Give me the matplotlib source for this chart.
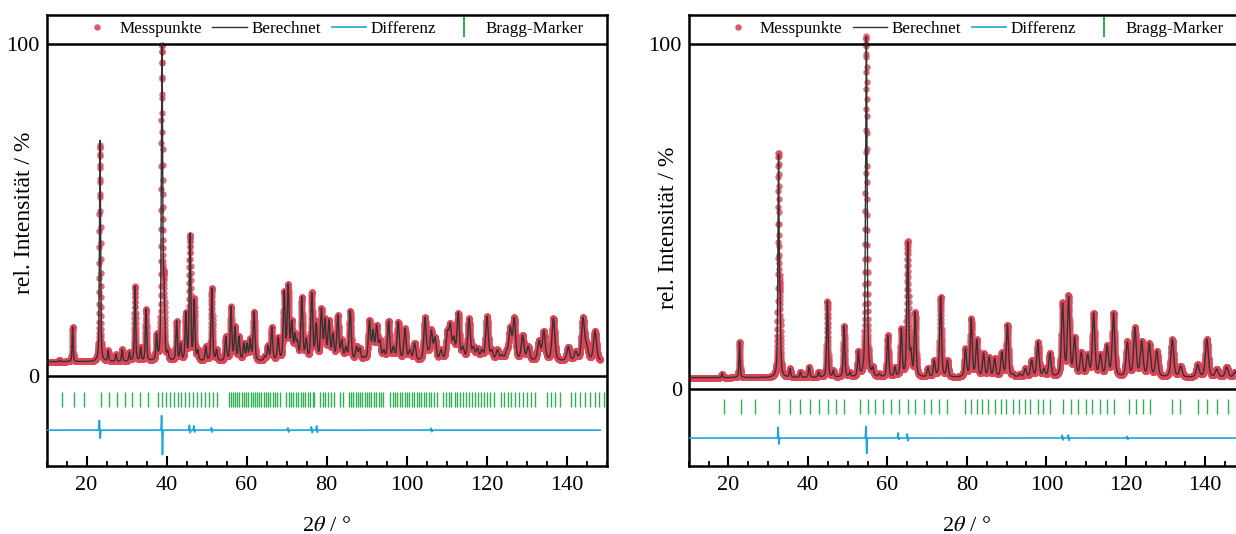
import numpy as np
import matplotlib.pyplot as plt
from matplotlib.lines import Line2D
from matplotlib.ticker import MultipleLocator

plt.rcParams.update({
    "font.family": "Liberation Serif",
    "mathtext.fontset": "stix",
})

# ---------------- left pattern ----------------
# reflection position (2theta / deg) and peak top (rel. intensity / %)
left_pos = [13.2, 16.5, 23.35, 25.4, 27.35, 28.9, 30.7, 32.1, 33.5, 34.85,
            37.5, 38.85, 39.35, 40.3, 42.5, 43.5, 44.8, 45.85, 46.9, 47.8,
            49.8, 51.3, 52.5, 54.8, 56.1, 57.1, 58.1, 59.3, 60.1, 60.9,
            61.85, 64.5, 65.3, 66.3, 67.9, 69.4, 70.4, 71.3, 72.1, 72.7,
            73.8, 74.9, 76.3, 77.4, 78.7, 79.6, 80.6, 81.6, 82.8, 83.8,
            84.8, 85.9, 87.5, 88.3, 89.4, 90.7, 91.6, 92.5, 93.3, 94.3,
            95.5, 96.7, 97.9, 99.6, 100.8, 102.0, 104.6, 105.4, 106.2, 107.1,
            108.6, 110.2, 110.9, 111.8, 112.9, 114.1, 115.6, 116.7, 117.7, 118.8,
            120.1, 121.3, 122.7, 123.8, 125.0, 125.9, 126.9, 129.0, 130.4, 133.1,
            134.3, 136.7, 140.4, 142.3, 144.1, 145.0, 147.1]
left_top = [4.8, 14.8, 71, 7.8, 6.6, 8.1, 7.3, 27, 8.8, 20.2,
            12.9, 100, 30, 7.8, 16.7, 10, 19.4, 43, 23.2, 8,
            9, 26.5, 8, 12, 21, 15, 12, 10, 10, 11.4,
            19.4, 6, 9.3, 14.8, 11.7, 25.7, 27.7, 16.9, 13, 11,
            23.9, 11.4, 25.1, 16, 20.5, 17.5, 17, 13, 18.4, 11,
            9, 19.7, 9, 8.5, 6, 16.9, 14, 15.4, 11, 8,
            16.6, 9, 16.4, 14.4, 8, 10, 17.7, 8, 13.9, 11.8,
            8, 13.9, 16, 12, 19.1, 9, 17.4, 9, 8.5, 8,
            18, 8, 8, 6.5, 8, 14.9, 17.7, 12.3, 9, 10.8,
            13.7, 17.4, 8.8, 7.5, 17.7, 10, 13.7]
left_bg = 4.3
left_end = 148.4
left_bragg = [13.8, 16.9, 19.4, 23.7, 25.7, 27.5, 29.5, 31.4, 33.3, 35.3,
              37.9, 38.9, 39.9, 40.8, 41.8, 42.8, 43.7, 44.7, 45.7, 46.6,
              47.6, 48.6, 49.6, 50.5, 51.5, 52.5,
              55.5, 56.0, 56.6, 57.1, 57.7, 58.2, 58.8, 59.3, 59.9, 60.4,
              61.0, 61.5, 62.1, 62.6, 63.2, 63.7, 64.3, 64.8, 65.4, 65.9,
              66.5, 67.0, 67.6, 68.4,
              69.9, 70.5, 71.1, 71.7, 72.3, 72.9, 73.5, 74.0, 74.6, 75.3,
              75.9, 76.5, 76.9,
              78.4, 79.0, 79.6, 80.3, 81.0, 81.8, 83.3, 84.0,
              85.6, 86.1, 86.7, 87.3, 87.8, 88.4, 88.9, 89.5, 90.1, 90.6,
              91.2, 91.8, 92.4, 93.0, 93.6, 94.2,
              95.9, 96.5, 97.1, 97.7, 98.3, 98.9, 99.5, 100.1, 100.7, 101.3,
              101.9, 102.5, 103.1, 103.7, 104.3, 104.9, 105.5, 106.1, 106.8, 107.6,
              109.1, 109.8, 110.5, 111.2, 112.0, 112.7, 113.4, 114.1, 114.9, 115.6,
              116.3, 117.1, 117.8, 118.5, 119.3, 120.1, 120.9, 121.9,
              123.5, 124.4, 125.3, 126.2, 127.2, 128.1, 129.0, 130.0, 131.0, 132.0,
              135.0, 136.0, 137.1, 138.4,
              141.0, 142.2, 143.4, 144.6, 145.8, 147.0, 148.2, 149.4]
# misfit features of the difference curve: position, overshoot, undershoot (%)
left_res_pos = [23.3, 38.85, 45.8, 46.9, 51.3, 70.4, 76.3, 77.6, 106.2]
left_res_up = [3.0, 4.5, 1.5, 1.3, 0.8, 0.7, 1.0, 1.3, 0.6]
left_res_dn = [2.5, 7.5, 0.8, 0.6, 0.6, 0.6, 0.8, 0.7, 0.5]

# ---------------- right pattern ----------------
right_pos = [18.4, 22.8, 32.6, 33.0, 35.5, 38.1, 40.3, 42.7, 44.9, 46.4,
             49.1, 50.6, 52.7, 54.7, 55.2, 56.3, 58.0, 60.1, 61.9, 63.5,
             65.1, 65.9, 67.0, 70.2, 71.8, 73.4, 75.1, 79.65, 81.1, 82.5,
             84.2, 85.6, 87.0, 88.8, 90.2, 91.6, 93.3, 94.7, 96.3, 97.9,
             99.4, 100.9, 104.1, 105.6, 107.1, 108.8, 110.4, 111.9, 113.6, 115.3,
             116.9, 120.4, 122.3, 124.0, 125.9, 127.8, 131.7, 133.8, 138.1, 140.4,
             142.9, 145.4, 147.5]
right_top = [4.5, 13.7, 68, 28, 6, 5, 6.5, 5, 25.5, 5.5,
             18.3, 5, 11.1, 101.5, 9, 6.5, 4.5, 15.6, 6.5, 17.6,
             42.7, 12, 22.4, 6.2, 8.4, 26.8, 8.4, 11.8, 20.5, 14.4,
             10.5, 9.3, 9, 10.8, 18.7, 4.5, 4.5, 6, 8.4, 13.7,
             6, 10.5, 25, 27, 15.2, 10.8, 10.2, 22.1, 10.2, 12.8,
             22.1, 13.7, 17.9, 14, 13.4, 11.1, 14.4, 6.7, 7.2, 14.5,
             5.8, 6.4, 5]
right_bg = 3.3
right_end = 150.0
right_bragg = [18.85, 23.2, 26.7, 32.7, 35.4, 38.0, 40.5, 42.8, 45.0, 47.1,
               49.2, 53.0, 55.0, 56.9, 59.0, 60.9, 63.0, 65.1, 67.0, 69.1,
               71.0, 73.1, 75.0, 79.6, 81.0, 82.5, 83.9, 85.4, 87.0, 88.5,
               89.9, 91.6, 93.0, 94.6, 96.0, 97.8, 99.2, 100.8, 104.3, 106.1,
               108.0, 109.9, 111.6, 113.5, 115.3, 117.0, 120.7, 122.6, 124.3, 126.0,
               131.7, 133.6, 138.1, 140.5, 143.0, 145.6]
right_res_pos = [32.6, 54.7, 62.8, 65.1, 104.1, 105.6, 120.4]
right_res_up = [3.2, 3.5, 1.5, 1.2, 0.8, 0.9, 0.5]
right_res_dn = [1.8, 4.5, 0.4, 0.8, 0.6, 0.7, 0.4]

RED = "#dc4659"
CALC = "#333333"
BLUE = "#1aa6dc"
GREEN = "#2fb055"


def fwhm(c):
    return 0.22 + 0.0045 * np.asarray(c)


def pvoigt(x, c, w, eta=0.5):
    d = (x - c) / (w / 2.0)
    return eta / (1 + d ** 2) + (1 - eta) * np.exp(-np.log(2) * d ** 2)


def pattern(x, pos, top, bg):
    pos = np.asarray(pos, float)
    top = np.asarray(top, float)
    m = pvoigt(pos[:, None], pos[None, :], fwhm(pos)[None, :])
    amp = np.clip(np.linalg.solve(m, top - bg), 0.2, None)
    y = bg + (amp[None, :] * pvoigt(x[:, None], pos[None, :], fwhm(pos)[None, :])).sum(axis=1)
    return y


def residual(x, rp, up, dn):
    r = np.zeros_like(x)
    for c, a, b in zip(rp, up, dn):
        r += a * np.exp(-0.5 * ((x - c + 0.1) / 0.07) ** 2)
        r -= b * np.exp(-0.5 * ((x - c - 0.1) / 0.07) ** 2)
    return r


def panel(ax, pos, top, bg, end, bragg, rp, up, dn, ylim, bragg_lim, diff_off, ylab_xy):
    xc = np.arange(10.0, end, 0.005)
    xm = np.arange(10.0, end, 0.02)
    calc_fine = pattern(xc, pos, top, bg)
    res = residual(xm, rp, up, dn)
    meas = pattern(xm, pos, top, bg) + res

    ax.plot(xm, meas, "o", ms=4.6, color=RED, alpha=0.8, mew=0, zorder=2)
    ax.plot(xc, calc_fine, color=CALC, lw=1.0, zorder=4)
    ax.plot(xm, res + diff_off, color=BLUE, lw=1.2, zorder=3)
    ax.vlines(bragg, bragg_lim[0], bragg_lim[1], color=GREEN, lw=1.0, zorder=3)

    ax.axhline(100, color="black", lw=1.8, zorder=3.5)
    ax.axhline(0, color="black", lw=1.8, zorder=3.5)

    ax.set_xlim(10, 150)
    ax.set_ylim(*ylim)
    ax.xaxis.set_major_locator(MultipleLocator(20))
    ax.xaxis.set_minor_locator(MultipleLocator(5))
    ax.set_xticks([20, 40, 60, 80, 100, 120, 140])
    ax.set_yticks([0, 100])
    ax.set_yticklabels(["0", "100"])
    ax.tick_params(axis="x", which="major", direction="in", length=7, width=1.5,
                   labelsize=16, pad=7, top=False)
    ax.tick_params(axis="x", which="minor", direction="in", length=3.5, width=1.3, top=False)
    ax.tick_params(axis="y", length=0, labelsize=16, pad=5)
    for s in ax.spines.values():
        s.set_linewidth(1.8)

    ax.set_xlabel(r"2$\theta$ / °", fontsize=16, labelpad=16)
    ax.set_ylabel("rel. Intensität / %", fontsize=17)
    ax.yaxis.set_label_coords(*ylab_xy)

    handles = [
        Line2D([], [], ls="none", marker="o", ms=4.6, color=RED, alpha=0.9, mew=0),
        Line2D([], [], color=CALC, lw=1.0),
        Line2D([], [], color=BLUE, lw=1.2),
        Line2D([], [], ls="none", marker="|", ms=14, mew=1.5, color=GREEN),
    ]
    ax.legend(handles, ["Messpunkte", "Berechnet", "Differenz", "Bragg-Marker"],
              loc="center", bbox_to_anchor=(0.51, 0.968), ncol=4, frameon=False,
              fontsize=12.3, handlelength=2.0, handletextpad=0.3, columnspacing=0.6,
              borderaxespad=0)


W, H = 1236, 534
fig = plt.figure(figsize=(W / 100, H / 100), dpi=100)
bot = 1 - 466 / H
hgt = (466 - 15) / H
ax1 = fig.add_axes([46.6 / W, bot, (606.6 - 46.6) / W, hgt])
ax2 = fig.add_axes([688.7 / W, bot, (1245 - 688.7) / W, hgt])

panel(ax1, left_pos, left_top, left_bg, left_end, left_bragg,
      left_res_pos, left_res_up, left_res_dn,
      (-27.1, 108.7), (-9.3, -4.8), -16.3, (-0.02, 0.561))
panel(ax2, right_pos, right_top, right_bg, right_end, right_bragg,
      right_res_pos, right_res_up, right_res_dn,
      (-22.3, 108.4), (-7.2, -2.9), -14.2, (-0.018, 0.528))

fig.savefig("out.png", dpi=100)
